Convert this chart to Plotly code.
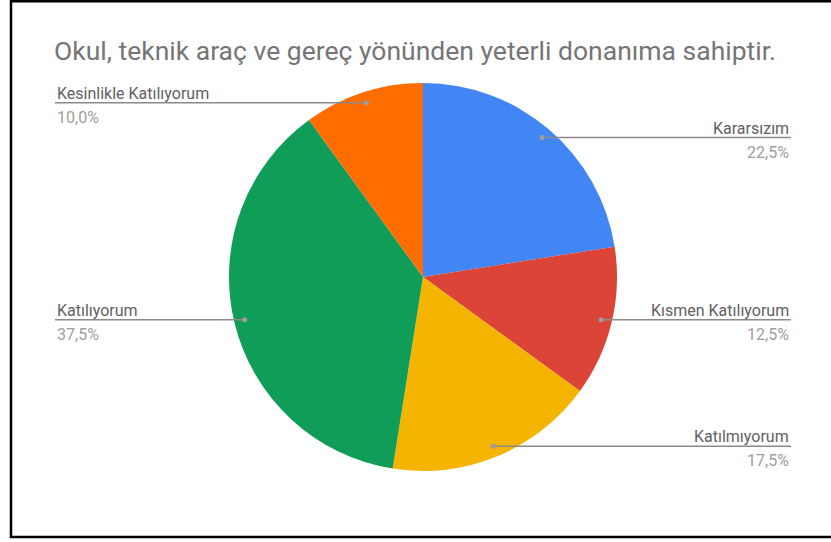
import math
import plotly.graph_objects as go

title = "Okul, teknik araç ve gereç yönünden yeterli donanıma sahiptir."
labels = ["Kararsızım", "Kısmen Katılıyorum", "Katılmıyorum", "Katılıyorum", "Kesinlikle Katılıyorum"]
values = [22.5, 12.5, 17.5, 37.5, 10.0]
colors = ["#4285F4", "#DB4437", "#F4B400", "#0F9D58", "#FF6D00"]

W, H = 831, 542
FW = W + 10  # figure slightly wider than the window; the extra part is clipped
cx, cy, R = 423, 277, 194
dot_frac = 0.945
left_x, right_x = 55, 791

fig = go.Figure()
fig.add_trace(go.Pie(
    labels=labels, values=values, sort=False, direction="clockwise", rotation=0,
    marker=dict(colors=colors, line=dict(width=0)),
    textinfo="none", hoverinfo="label+percent", showlegend=False,
    domain=dict(x=[(cx - R) / FW, (cx + R) / FW],
                y=[(H - cy - R) / H, (H - cy + R) / H]),
))
# invisible cartesian trace to keep the axes active
fig.add_trace(go.Scatter(x=[0], y=[0], mode="markers", marker=dict(opacity=0),
                         hoverinfo="skip", showlegend=False))

total = sum(values)
cum = 0.0
annotations = []
shapes = []
for lab, v in zip(labels, values):
    mid = (cum + v / 2) / total
    cum += v
    ang = 2 * math.pi * mid
    dx = cx + dot_frac * R * math.sin(ang)
    dy = cy - dot_frac * R * math.cos(ang)
    right = math.sin(ang) > 0
    ex = right_x if right else left_x
    shapes.append(dict(type="line", xref="x", yref="y", x0=dx, y0=dy, x1=ex, y1=dy,
                       line=dict(color="#8A8A8A", width=1.5), layer="above"))
    shapes.append(dict(type="circle", xref="x", yref="y", x0=dx - 2.5, y0=dy - 2.5,
                       x1=dx + 2.5, y1=dy + 2.5, fillcolor="#9E9E9E",
                       line=dict(width=0), layer="above"))
    xanchor = "right" if right else "left"
    pct = f"{v / total * 100:.1f}%".replace(".", ",")
    annotations.append(dict(x=ex, y=dy + 2, xref="x", yref="y", text=lab, showarrow=False,
                            xanchor=xanchor, yanchor="bottom",
                            font=dict(family="Roboto", size=16, color="#616161")))
    annotations.append(dict(x=ex, y=dy + 3, xref="x", yref="y", text=pct, showarrow=False,
                            xanchor=xanchor, yanchor="top",
                            font=dict(family="Roboto", size=16, color="#9E9E9E")))

annotations.append(dict(x=52, y=50, xref="x", yref="y", text=title, showarrow=False,
                        xanchor="left", yanchor="middle",
                        font=dict(family="Roboto", size=26.5, color="#757575")))

frame = dict(color="black", width=2.5)
shapes.append(dict(type="line", xref="x", yref="y", x0=10, y0=1.2, x1=FW, y1=1.2, line=frame, layer="above"))
shapes.append(dict(type="line", xref="x", yref="y", x0=11, y0=0, x1=11, y1=538, line=frame, layer="above"))
shapes.append(dict(type="line", xref="x", yref="y", x0=10, y0=537, x1=FW, y1=537, line=frame, layer="above"))

fig.update_layout(
    width=FW, height=H, margin=dict(l=0, r=0, t=0, b=0),
    paper_bgcolor="white", plot_bgcolor="rgba(0,0,0,0)",
    xaxis=dict(range=[0, FW], visible=False, fixedrange=True),
    yaxis=dict(range=[H, 0], visible=False, fixedrange=True),
    annotations=annotations,
    shapes=shapes,
)

fig.write_html("out.html", config={"displayModeBar": False},
               post_script="document.body.style.margin='0';document.body.style.overflow='hidden';")
